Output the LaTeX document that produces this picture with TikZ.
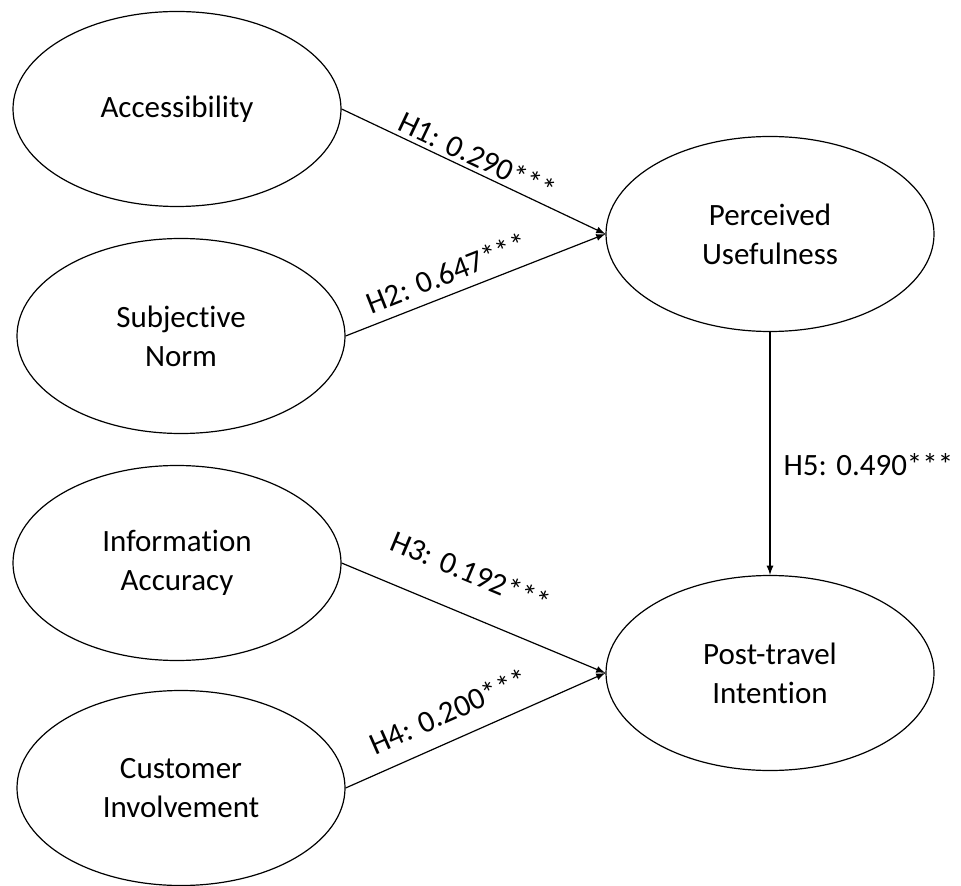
\documentclass[tikz,border=0pt]{standalone}
\usepackage{fontspec}
\setmainfont[Ligatures=NoCommon]{Carlito}
\usetikzlibrary{shapes.geometric}
\tikzset{
	latentstyle/.style={ellipse, draw=black, line width=0.6pt, fill=white, minimum width=164pt, minimum height=97.5pt, inner sep=0pt, align=center, font=\fontsize{15.5}{19.5}\selectfont},
	pathstyle/.style={-latex, line width=0.6pt},
	labelstyle/.style={sloped, inner sep=0pt, font=\fontsize{15.5}{19}\selectfont}
}

\begin{document}
\begin{tikzpicture}[x=0.5pt, y=-0.5pt]
	\useasboundingbox (0,0) rectangle (961,886);
	\node[latentstyle] (acc) at (177,109) {Accessibility};
	\node[latentstyle] (sub) at (181,336) {Subjective\\Norm};
	\node[latentstyle] (info) at (177,563) {Information\\Accuracy};
	\node[latentstyle] (cust) at (181,788) {Customer\\Involvement};
	\node[latentstyle] (pu) at (770,234) {Perceived\\Usefulness};
	\node[latentstyle] (pt) at (770,673) {Post-travel\\Intention};
	\draw[pathstyle] (acc.east)--(pu.west) node[labelstyle, pos=0.49, above=2pt] {H1: 0.290***};
	\draw[pathstyle] (sub.east)--(pu.west) node[labelstyle, pos=0.42, above=5pt] {H2: 0.647***};
	\draw[pathstyle] (info.east)--(pt.west) node[labelstyle, pos=0.43, above=15pt] {H3: 0.192***};
	\draw[pathstyle] (cust.east)--(pt.west) node[labelstyle, pos=0.44, above=8.5pt] {H4: 0.200***};
	\draw[pathstyle] (pu.south)--(pt.north) node[pos=0.545, right=6.5pt, inner sep=0pt, font=\fontsize{15.5}{19}\selectfont] {H5: 0.490***};
\end{tikzpicture}
\end{document}
